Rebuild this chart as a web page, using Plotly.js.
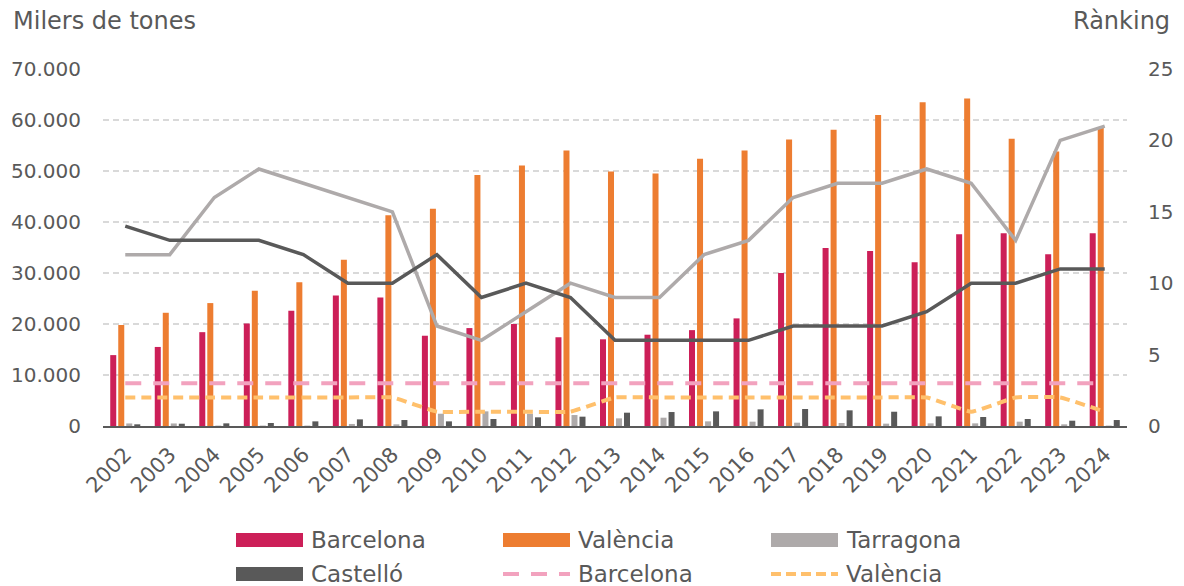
<!DOCTYPE html>
<html>
<head>
<meta charset="utf-8">
<script src="https://cdn.plot.ly/plotly-3.0.1.min.js"></script>
<style>html,body{margin:0;padding:0;background:#fff;}#chart{width:1184px;height:586px;}</style>
</head>
<body>
<div id="chart"></div>
<script>
// ---- data ----
const years = ['2002','2003','2004','2005','2006','2007','2008','2009','2010','2011','2012','2013','2014','2015','2016','2017','2018','2019','2020','2021','2022','2023','2024'];
// thousands of tonnes (bars, left axis)
const bcnTonnes = [13900,15500,18400,20100,22600,25600,25200,17700,19200,20000,17400,17000,17900,18800,21100,30000,34900,34300,32100,37600,37800,33700,37800];
const vlcTonnes = [19800,22200,24100,26500,28200,32600,41300,42600,49200,51100,54000,49900,49500,52400,54000,56200,58100,61000,63500,64200,56300,53800,58600];
const tgnTonnes = [500,500,80,80,80,400,330,2410,2870,2410,2150,1500,1630,910,850,650,590,460,520,520,850,330,80];
const cstTonnes = [330,450,520,590,910,1300,1170,910,1370,1700,1830,2610,2740,2870,3260,3330,3070,2800,1890,1760,1370,1040,1170];
// ranking (lines, right axis)
const bcnRank = [3,3,3,3,3,3,3,3,3,3,3,3,3,3,3,3,3,3,3,3,3,3,3];
const vlcRank = [2,2,2,2,2,2,2,1,1,1,1,2,2,2,2,2,2,2,2,1,2,2,1];
const tgnRank = [12,12,16,18,17,16,15,7,6,8,10,9,9,12,13,16,17,17,18,17,13,20,21];
const cstRank = [14,13,13,13,12,10,10,12,9,10,9,6,6,6,6,7,7,7,8,10,10,11,11];

const seriesNames = ['Barcelona','València','Tarragona','Castelló'];
const colBcn = '#CC1F58', colVlc = '#ED7D31', colTgn = '#AEAAAA', colCst = '#595959';
const colBcnRank = '#F2A2BE', colVlcRank = '#FFC06C';
const FONT = 'DejaVu Sans';
const TXT = '#595959';

const W = 1184, H = 586;
const M = {l:103, r:57, t:69, b:160};
const PW = W - M.l - M.r, PH = H - M.t - M.b;
const px = x => (x - M.l) / PW;
const py = y => (H - M.b - y) / PH;

const traces = [
  {type:'bar', name:seriesNames[0], x:years, y:bcnTonnes, marker:{color:colBcn}},
  {type:'bar', name:seriesNames[1], x:years, y:vlcTonnes, marker:{color:colVlc}},
  {type:'bar', name:seriesNames[2], x:years, y:tgnTonnes, marker:{color:colTgn}},
  {type:'bar', name:seriesNames[3], x:years, y:cstTonnes, marker:{color:colCst}},
  {type:'scatter', mode:'lines', name:seriesNames[0], x:years, y:bcnRank, yaxis:'y2',
   line:{color:colBcnRank, width:4, dash:'16px,12px'}},
  {type:'scatter', mode:'lines', name:seriesNames[1], x:years, y:vlcRank, yaxis:'y2',
   line:{color:colVlcRank, width:4, dash:'10px,6px', shape:'spline', smoothing:0.3}},
  {type:'scatter', mode:'lines', name:seriesNames[2], x:years, y:tgnRank, yaxis:'y2',
   line:{color:colTgn, width:3.5}},
  {type:'scatter', mode:'lines', name:seriesNames[3], x:years, y:cstRank, yaxis:'y2',
   line:{color:colCst, width:3.5}}
];

const shapes = [];
const annotations = [];
// axis titles
annotations.push({xref:'paper', yref:'paper', x:px(11), y:py(21), xanchor:'left', yanchor:'middle',
  text:'Milers de tones', showarrow:false, font:{family:FONT, size:24, color:TXT}});
annotations.push({xref:'paper', yref:'paper', x:px(1172), y:py(21), xanchor:'right', yanchor:'middle',
  text:'Rànking', showarrow:false, font:{family:FONT, size:24, color:TXT}});

// legend (drawn manually to match the wide swatches)
const legendItems = [
  {kind:'rect', color:colBcn, label:seriesNames[0], col:0, row:0},
  {kind:'rect', color:colVlc, label:seriesNames[1], col:1, row:0},
  {kind:'rect', color:colTgn, label:seriesNames[2], col:2, row:0},
  {kind:'rect', color:colCst, label:seriesNames[3], col:0, row:1},
  {kind:'line', color:colBcnRank, dash:'16px,12px', label:seriesNames[0], col:1, row:1},
  {kind:'line', color:colVlcRank, dash:'10px,5px', label:seriesNames[1], col:2, row:1}
];
const colX = [236, 503, 771], rowY = [540, 574];
legendItems.forEach(it => {
  const x0 = colX[it.col], x1 = x0 + 67, yc = rowY[it.row];
  if (it.kind === 'rect') {
    shapes.push({type:'rect', xref:'paper', yref:'paper', x0:px(x0), x1:px(x1), y0:py(yc+7), y1:py(yc-7),
      fillcolor:it.color, line:{width:0}});
  } else {
    shapes.push({type:'line', xref:'paper', yref:'paper', x0:px(x0), x1:px(x1), y0:py(yc), y1:py(yc),
      line:{color:it.color, width:4, dash:it.dash}});
  }
  annotations.push({xref:'paper', yref:'paper', x:px(x0+73), y:py(yc), xanchor:'left', yanchor:'middle',
    text:it.label, showarrow:false, font:{family:FONT, size:23, color:TXT}});
});

const layout = {
  width:W, height:H, margin:M,
  paper_bgcolor:'#ffffff', plot_bgcolor:'#ffffff',
  separators:',.',
  showlegend:false,
  barmode:'group', bargap:0.28, bargroupgap:0.25,
  font:{family:FONT, color:TXT, size:20},
  xaxis:{type:'category', tickangle:-45, tickfont:{family:FONT, size:21, color:TXT},
    showline:true, linecolor:'#595959', linewidth:2, showgrid:false, ticks:'', ticklabelstandoff:6},
  yaxis:{range:[0,70000], dtick:10000, tickformat:',d', showgrid:true, gridcolor:'#D9D9D9',
    gridwidth:1.5, griddash:'6px,4px', zeroline:false, showline:false, ticks:'',
    tickfont:{family:FONT, size:20, color:TXT}, ticklabelstandoff:21},
  yaxis2:{range:[0,25], dtick:5, overlaying:'y', side:'right', showgrid:false, zeroline:false,
    showline:false, ticks:'', tickfont:{family:FONT, size:20, color:TXT}, ticklabelstandoff:20},
  shapes:shapes, annotations:annotations
};

Plotly.newPlot('chart', traces, layout, {staticPlot:true, displayModeBar:false});
</script>
</body>
</html>
